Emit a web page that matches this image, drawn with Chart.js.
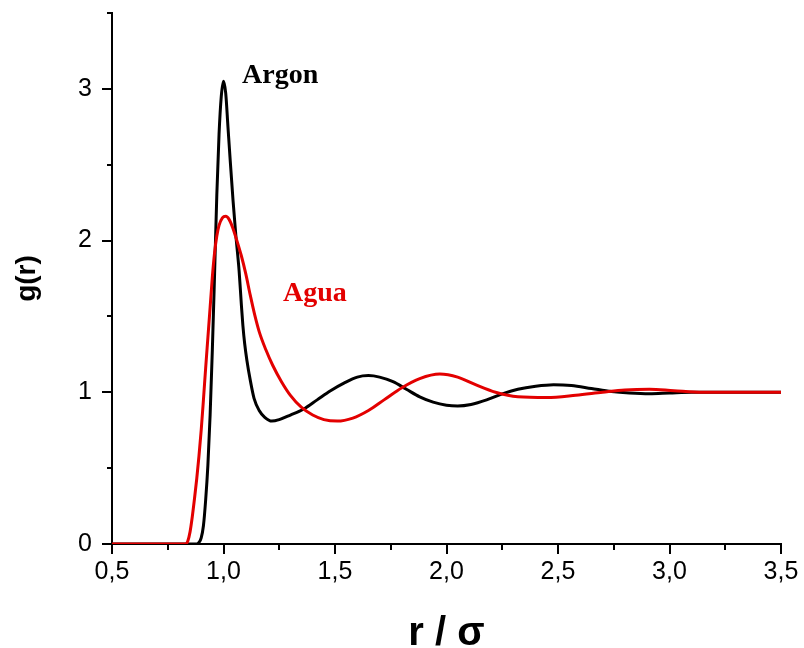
<!DOCTYPE html>
<html>
<head>
<meta charset="utf-8">
<title>g(r)</title>
<script src="https://cdn.jsdelivr.net/npm/chart.js@4.4.1/dist/chart.umd.min.js"></script>
<style>
  html, body { margin: 0; padding: 0; background: #fff; }
  #wrap { width: 804px; height: 648px; position: relative; }
</style>
</head>
<body>
<div id="wrap"><canvas id="rdfChart"></canvas></div>
<script>
(function(){
  'use strict';

  // Funcion de distribucion radial g(r), r en unidades de sigma
  const rArgon = [0.50, 0.88, 0.89, 0.90, 0.91, 0.92, 0.93, 0.94, 0.95, 0.96, 0.97, 0.98, 0.99, 1.00,
    1.01, 1.02, 1.03, 1.043, 1.055, 1.07, 1.08, 1.087, 1.095, 1.105, 1.12, 1.137, 1.16, 1.185, 1.217,
    1.25, 1.30, 1.36, 1.42, 1.48, 1.54, 1.60, 1.65, 1.70, 1.76, 1.82, 1.88, 1.94, 2.00, 2.05, 2.11,
    2.18, 2.25, 2.32, 2.40, 2.48, 2.56, 2.65, 2.74, 2.82, 2.91, 3.00, 3.10, 3.50];
  const gArgon = [0, 0, 0.01, 0.04, 0.12, 0.29, 0.52, 0.85, 1.28, 1.78, 2.30, 2.70, 2.95, 3.05,
    2.97, 2.75, 2.53, 2.26, 2.04, 1.80, 1.58, 1.44, 1.32, 1.21, 1.08, 0.96, 0.88, 0.835, 0.81,
    0.82, 0.85, 0.89, 0.95, 1.01, 1.06, 1.10, 1.11, 1.10, 1.07, 1.02, 0.97, 0.935, 0.915, 0.91, 0.92,
    0.95, 0.99, 1.02, 1.04, 1.05, 1.045, 1.025, 1.005, 0.995, 0.99, 0.995, 1.00, 1.00];

  const rAgua = [0.50, 0.83, 0.84, 0.85, 0.86, 0.87, 0.88, 0.89, 0.90, 0.91, 0.92, 0.93, 0.94, 0.95,
    0.96, 0.97, 0.98, 0.995, 1.01, 1.025, 1.04, 1.06, 1.08, 1.10, 1.12, 1.14, 1.16, 1.19, 1.22, 1.26,
    1.30, 1.35, 1.40, 1.45, 1.51, 1.58, 1.65, 1.72, 1.80, 1.88, 1.97, 2.05, 2.13, 2.22, 2.32, 2.45,
    2.58, 2.70, 2.80, 2.91, 3.02, 3.15, 3.50];
  const gAgua = [0, 0, 0.02, 0.08, 0.18, 0.30, 0.43, 0.58, 0.75, 0.95, 1.16, 1.36, 1.56, 1.76,
    1.92, 2.03, 2.10, 2.15, 2.16, 2.14, 2.09, 2.00, 1.90, 1.78, 1.64, 1.51, 1.40, 1.28, 1.18, 1.07,
    0.98, 0.90, 0.85, 0.82, 0.81, 0.83, 0.88, 0.95, 1.03, 1.09, 1.12, 1.10, 1.05, 1.00, 0.97, 0.965,
    0.98, 1.00, 1.015, 1.02, 1.01, 1.00, 1.00];

  // Etiquetas de cada curva (texto, r, g)
  const curveLabels = [
    { text: 'Argon', r: 1.083, g: 3.04, color: '#000000' },
    { text: 'Agua', r: 1.267, g: 1.60, color: '#e30000' }
  ];

  const xTicks = { min: 0.5, max: 3.5, step: 0.25, labelStep: 0.5 };
  const yTicks = { min: 0, max: 3.5, step: 0.5, labelStep: 1 };

  const toPoints = (xs, ys) => xs.map((x, i) => ({ x: x, y: ys[i] }));
  const isMultiple = (v, step) => Math.abs(v / step - Math.round(v / step)) < 1e-6;

  // Marcas de los ejes hacia afuera: largas en los valores con etiqueta, cortas en el resto
  const axisTicks = {
    id: 'axisTicks',
    afterDraw(chart) {
      const ctx = chart.ctx;
      const xs = chart.scales.x;
      const ys = chart.scales.y;
      ctx.save();
      ctx.strokeStyle = '#000';
      ctx.lineWidth = 2;
      ctx.beginPath();
      xs.ticks.forEach(t => {
        const px = Math.round(xs.getPixelForValue(t.value));
        const len = isMultiple(t.value, xTicks.labelStep) ? 10 : 6;
        ctx.moveTo(px, ys.bottom);
        ctx.lineTo(px, ys.bottom + len);
      });
      ys.ticks.forEach(t => {
        const py = Math.round(ys.getPixelForValue(t.value));
        const len = isMultiple(t.value, yTicks.labelStep) ? 10 : 5;
        ctx.moveTo(xs.left, py);
        ctx.lineTo(xs.left - len, py);
      });
      ctx.stroke();
      ctx.restore();
    }
  };

  const curveText = {
    id: 'curveText',
    afterDatasetsDraw(chart) {
      const ctx = chart.ctx;
      ctx.save();
      ctx.font = 'bold 28px "Liberation Serif", "Times New Roman", serif';
      ctx.textBaseline = 'alphabetic';
      ctx.textAlign = 'left';
      curveLabels.forEach(l => {
        ctx.fillStyle = l.color;
        ctx.fillText(l.text, chart.scales.x.getPixelForValue(l.r), chart.scales.y.getPixelForValue(l.g));
      });
      ctx.restore();
    }
  };

  const tickFont = { family: '"Liberation Sans", Arial, sans-serif', size: 25 };

  new Chart(document.getElementById('rdfChart').getContext('2d'), {
    type: 'line',
    data: {
      datasets: [{
        label: 'Argon',
        data: toPoints(rArgon, gArgon),
        borderColor: '#000000',
        borderWidth: 3,
        pointRadius: 0,
        cubicInterpolationMode: 'monotone',
        order: 2
      }, {
        label: 'Agua',
        data: toPoints(rAgua, gAgua),
        borderColor: '#e30000',
        borderWidth: 3,
        pointRadius: 0,
        cubicInterpolationMode: 'monotone',
        order: 1
      }]
    },
    options: {
      responsive: true,
      maintainAspectRatio: false,
      animation: false,
      layout: { padding: { top: 13, right: 23, left: 0, bottom: 0 } },
      plugins: {
        legend: { display: false },
        tooltip: { enabled: false }
      },
      scales: {
        x: {
          type: 'linear',
          min: xTicks.min,
          max: xTicks.max,
          border: { display: true, color: '#000', width: 2 },
          grid: { display: false, drawTicks: false },
          ticks: {
            stepSize: xTicks.step,
            autoSkip: false,
            maxRotation: 0,
            padding: 13,
            color: '#000',
            font: tickFont,
            callback: v => isMultiple(v, xTicks.labelStep) ? v.toFixed(1).replace('.', ',') : ''
          },
          title: {
            display: true,
            text: 'r / σ',
            color: '#000',
            font: { family: '"Liberation Sans", Arial, sans-serif', size: 40, weight: 'bold', lineHeight: 1 },
            padding: { top: 0, bottom: -6 }
          },
          afterFit(scale) {
            scale.height = 104;
            scale.paddingLeft = 0;
            scale.paddingRight = 0;
          }
        },
        y: {
          type: 'linear',
          min: yTicks.min,
          max: yTicks.max,
          border: { display: true, color: '#000', width: 2 },
          grid: { display: false, drawTicks: false },
          ticks: {
            stepSize: yTicks.step,
            autoSkip: false,
            padding: 20,
            color: '#000',
            font: tickFont,
            callback: v => isMultiple(v, yTicks.labelStep) ? String(v) : ''
          },
          title: {
            display: true,
            text: 'g(r)',
            color: '#000',
            font: { family: '"Liberation Sans", Arial, sans-serif', size: 28, weight: 'bold', lineHeight: 1.2 },
            padding: { top: 10, bottom: 0 }
          },
          afterFit(scale) {
            scale.width = 112;
            scale.paddingTop = 0;
            scale.paddingBottom = 0;
          }
        }
      }
    },
    plugins: [axisTicks, curveText]
  });
})();
</script>
</body>
</html>
